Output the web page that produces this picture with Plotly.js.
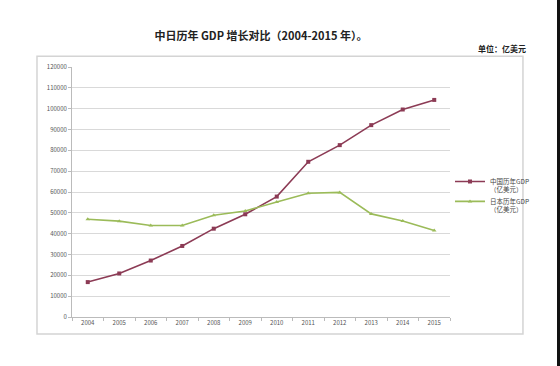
<!DOCTYPE html>
<html>
<head>
<meta charset="utf-8">
<script src="https://cdn.plot.ly/plotly-3.0.1.min.js"></script>
<style>
html,body{margin:0;padding:0;background:#fff;}
#wrap{width:560px;height:366px;position:relative;overflow:hidden;}
#chart{width:557px;height:366px;position:absolute;left:0;top:0;}
#bar{position:absolute;left:557px;top:0;width:3px;height:366px;background:#111;}
</style>
</head>
<body>
<div id="wrap"><div id="chart"></div><div id="bar"></div></div>
<script>
var years = ['2004','2005','2006','2007','2008','2009','2010','2011','2012','2013','2014','2015'];
var chinaGDP = [16750, 20900, 27100, 34100, 42400, 49300, 57800, 74500, 82500, 92100, 99600, 104200];
var japanGDP = [46900, 46000, 43900, 43900, 48800, 50900, 55200, 59400, 59800, 49500, 46100, 41500];
var chinaName = '中国历年GDP<br>（亿美元）';
var japanName = '日本历年GDP<br>（亿美元）';
var titleText = '中日历年 GDP 增长对比（2004-2015 年）。';
var unitText = '单位：亿美元';

var traces = [
  {x: years, y: chinaGDP, name: chinaName, type: 'scatter', mode: 'lines+markers',
   line: {color: '#8C3B55', width: 1.6}, marker: {symbol: 'square', size: 4, color: '#8C3B55'}},
  {x: years, y: japanGDP, name: japanName, type: 'scatter', mode: 'lines+markers',
   line: {color: '#9BBB59', width: 1.6}, marker: {symbol: 'triangle-up', size: 4, color: '#9BBB59'}}
];

var layout = {
  width: 557, height: 366,
  margin: {l: 72, r: 107, t: 67, b: 49, autoexpand: false},
  paper_bgcolor: '#fff', plot_bgcolor: '#fff',
  font: {family: 'Noto Sans CJK SC, sans-serif', color: '#555', size: 7},
  title: {text: titleText, x: 0.5, xref: 'paper', xanchor: 'center', y: 0.9, yref: 'container', yanchor: 'middle',
          font: {size: 11, color: '#222', family: 'Noto Sans CJK SC, sans-serif', weight: 'bold'}},
  showlegend: true,
  legend: {x: 1.0, y: 0.485, xanchor: 'left', yanchor: 'middle', font: {size: 6.5, color: '#444'},
           bgcolor: 'rgba(0,0,0,0)', tracegroupgap: 2, itemwidth: 30, valign: 'top'},
  xaxis: {type: 'category', range: [-0.5, 11.5], showgrid: false, showline: true, linecolor: '#bbb', linewidth: 1,
          ticks: 'outside', tickson: 'boundaries', ticklen: 3, tickcolor: '#bbb', automargin: false,
          tickfont: {size: 6, color: '#555'}, fixedrange: true},
  yaxis: {range: [0, 120000], dtick: 10000, tickformat: 'd', showgrid: true, gridcolor: '#d9d9d9', gridwidth: 1,
          showline: true, linecolor: '#bbb', linewidth: 1, ticks: 'outside', ticklen: 3, tickcolor: '#bbb', automargin: false,
          tickfont: {size: 6, color: '#555'}, zeroline: false, fixedrange: true},
  shapes: [
    {type: 'rect', xref: 'paper', yref: 'paper', x0: -0.0926, x1: 1.193, y0: -0.068, y1: 1.043,
     line: {color: '#d4d4d4', width: 1.5}, fillcolor: 'rgba(0,0,0,0)', layer: 'below'}
  ],
  annotations: [
    {text: '<b>' + unitText + '</b>', xref: 'paper', yref: 'paper', x: 1.207, y: 1.045, xanchor: 'right', yanchor: 'bottom',
     showarrow: false, font: {size: 8, color: '#222'}}
  ]
};

Plotly.newPlot('chart', traces, layout, {staticPlot: true, displayModeBar: false});
</script>
</body>
</html>
